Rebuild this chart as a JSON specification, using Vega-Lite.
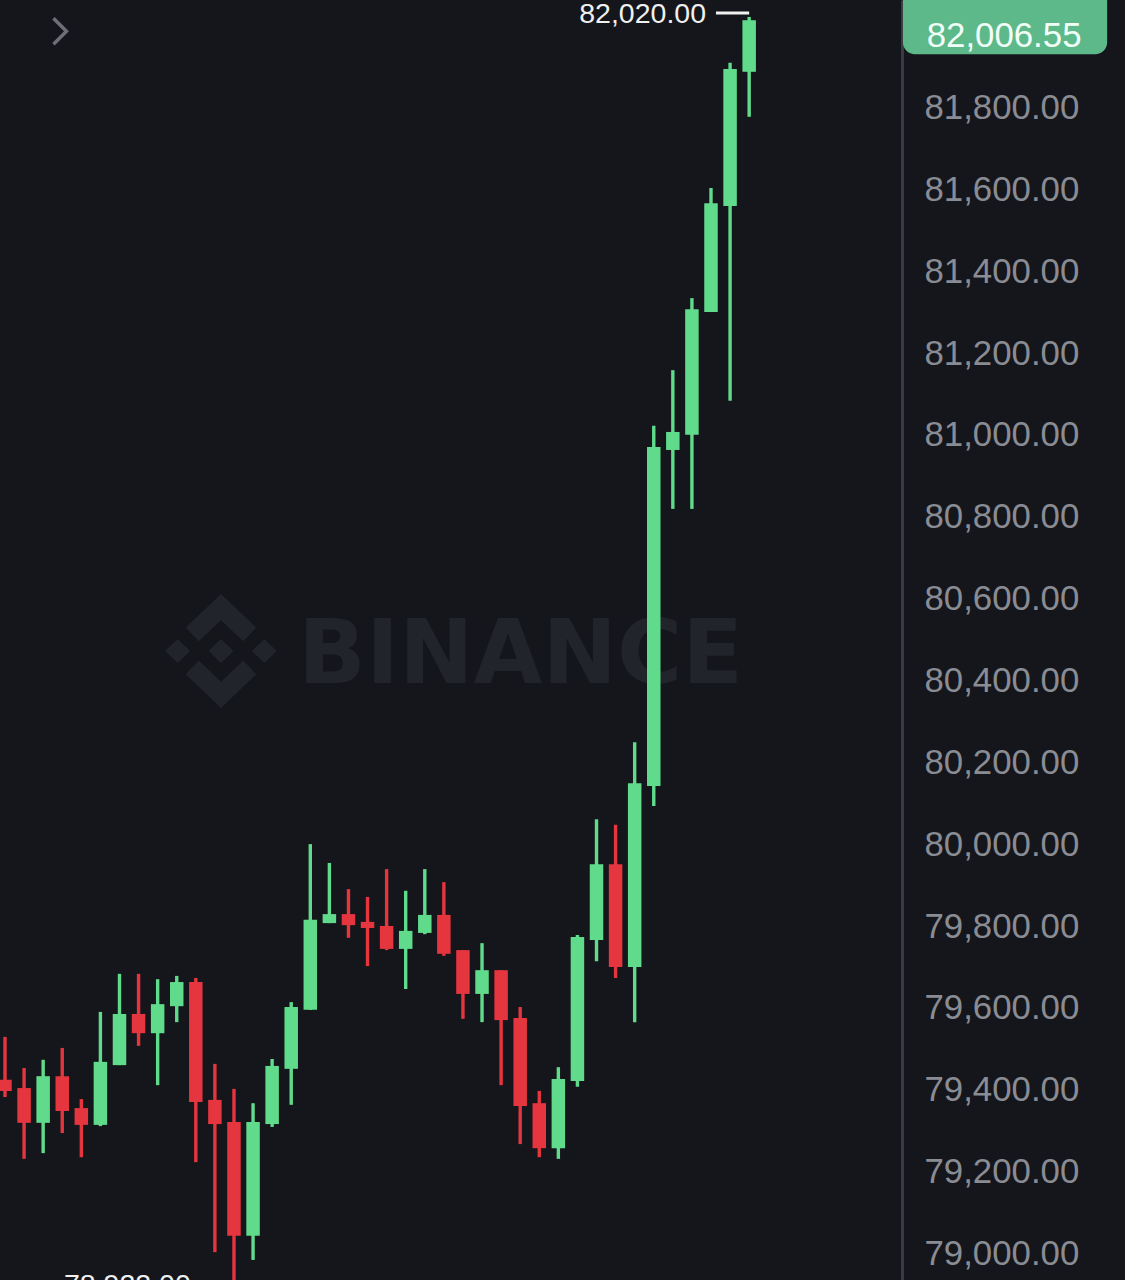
{
  "$schema": "https://vega.github.io/schema/vega-lite/v6.json",
  "width": 902,
  "height": 1280,
  "autosize": "none",
  "padding": {"left": 0, "top": 0, "right": 223, "bottom": 0},
  "background": "#15161b",
  "datasets": {
    "candles": [
      {"i": 0, "open": 79423, "high": 79528, "low": 79381, "close": 79396},
      {"i": 1, "open": 79403, "high": 79452, "low": 79230, "close": 79318},
      {"i": 2, "open": 79318, "high": 79472, "low": 79244, "close": 79432},
      {"i": 3, "open": 79432, "high": 79501, "low": 79293, "close": 79347},
      {"i": 4, "open": 79354, "high": 79376, "low": 79234, "close": 79313},
      {"i": 5, "open": 79313, "high": 79589, "low": 79310, "close": 79467},
      {"i": 6, "open": 79459, "high": 79682, "low": 79459, "close": 79584},
      {"i": 7, "open": 79584, "high": 79682, "low": 79506, "close": 79537},
      {"i": 8, "open": 79537, "high": 79669, "low": 79410, "close": 79608},
      {"i": 9, "open": 79603, "high": 79677, "low": 79564, "close": 79662},
      {"i": 10, "open": 79662, "high": 79672, "low": 79222, "close": 79369},
      {"i": 11, "open": 79374, "high": 79462, "low": 79002, "close": 79315},
      {"i": 12, "open": 79320, "high": 79401, "low": 78922, "close": 79042},
      {"i": 13, "open": 79042, "high": 79366, "low": 78983, "close": 79320},
      {"i": 14, "open": 79315, "high": 79474, "low": 79308, "close": 79457},
      {"i": 15, "open": 79450, "high": 79613, "low": 79362, "close": 79601},
      {"i": 16, "open": 79594, "high": 79999, "low": 79594, "close": 79814},
      {"i": 17, "open": 79806, "high": 79953, "low": 79806, "close": 79828},
      {"i": 18, "open": 79828, "high": 79889, "low": 79770, "close": 79801},
      {"i": 19, "open": 79809, "high": 79870, "low": 79701, "close": 79794},
      {"i": 20, "open": 79799, "high": 79938, "low": 79740, "close": 79743},
      {"i": 21, "open": 79743, "high": 79885, "low": 79645, "close": 79787},
      {"i": 22, "open": 79782, "high": 79938, "low": 79779, "close": 79826},
      {"i": 23, "open": 79826, "high": 79906, "low": 79726, "close": 79731},
      {"i": 24, "open": 79740, "high": 79740, "low": 79572, "close": 79633},
      {"i": 25, "open": 79633, "high": 79757, "low": 79564, "close": 79691},
      {"i": 26, "open": 79691, "high": 79691, "low": 79410, "close": 79569},
      {"i": 27, "open": 79574, "high": 79601, "low": 79266, "close": 79359},
      {"i": 28, "open": 79366, "high": 79396, "low": 79234, "close": 79256},
      {"i": 29, "open": 79256, "high": 79454, "low": 79230, "close": 79425},
      {"i": 30, "open": 79420, "high": 79777, "low": 79406, "close": 79772},
      {"i": 31, "open": 79765, "high": 80060, "low": 79713, "close": 79950},
      {"i": 32, "open": 79950, "high": 80046, "low": 79672, "close": 79699},
      {"i": 33, "open": 79699, "high": 80248, "low": 79564, "close": 80148},
      {"i": 34, "open": 80141, "high": 81021, "low": 80092, "close": 80969},
      {"i": 35, "open": 80962, "high": 81157, "low": 80818, "close": 81006},
      {"i": 36, "open": 80999, "high": 81333, "low": 80818, "close": 81306},
      {"i": 37, "open": 81299, "high": 81602, "low": 81299, "close": 81565},
      {"i": 38, "open": 81558, "high": 81908, "low": 81082, "close": 81893},
      {"i": 39, "open": 81886, "high": 82020, "low": 81776, "close": 82012}
    ]
  },
  "encoding": {
    "x": {
      "field": "i",
      "type": "quantitative",
      "axis": null,
      "scale": {"domain": [-0.262, 47.01], "nice": false, "zero": false, "padding": 0}
    },
    "y": {
      "field": "price",
      "type": "quantitative",
      "scale": {"domain": [78934, 82061.4], "nice": false, "zero": false},
      "axis": {
        "title": null,
        "orient": "right",
        "values": [79000, 79200, 79400, 79600, 79800, 80000, 80200, 80400, 80600, 80800, 81000, 81200, 81400, 81600, 81800],
        "format": ",.2f",
        "grid": false,
        "ticks": false,
        "labelFont": "Liberation Sans",
        "labelFontSize": 34.8,
        "labelColor": "#8a8c94",
        "labelPadding": 22,
        "labelOffset": 1.5,
        "labelFlush": false,
        "labelOverlap": false,
        "domainColor": "#3a3c43",
        "domainWidth": 3
      }
    }
  },
  "layer": [
    {
      "data": {"values": [{"i": 11.32, "price": 80471, "what": "logo"}]},
      "mark": {
        "type": "point",
        "filled": true,
        "size": 12996,
        "color": "#22242b",
        "opacity": 1,
        "shape": "M0,-1L.62,-.41L.39,-.17L0,-.54L-.39,-.17L-.62,-.41ZM0,1L.62,.41L.39,.17L0,.54L-.39,.17L-.62,.41ZM0,-.21L.22,0L0,.21L-.22,0ZM-.76,-.21L-.54,0L-.76,.21L-.98,0ZM.76,-.21L.98,0L.76,.21L.54,0Z"
      }
    },
    {
      "data": {"values": [{"i": 15.36, "price": 80471, "label": "BINANCE"}]},
      "mark": {"type": "text", "align": "left", "baseline": "middle", "dy": 5, "font": "DejaVu Sans", "fontWeight": "bold", "fontSize": 89, "color": "#22242b"},
      "encoding": {"text": {"field": "label"}}
    },
    {
      "data": {"name": "candles"},
      "mark": {"type": "rule", "strokeWidth": 3.4},
      "encoding": {
        "y": {"field": "low", "type": "quantitative"},
        "y2": {"field": "high"},
        "color": {"condition": {"test": "datum.close >= datum.open", "value": "#5fdb8b"}, "value": "#e5353f"}
      }
    },
    {
      "data": {"name": "candles"},
      "mark": {"type": "bar", "size": 13.5},
      "encoding": {
        "y": {"field": "open", "type": "quantitative"},
        "y2": {"field": "close"},
        "color": {"condition": {"test": "datum.close >= datum.open", "value": "#5fdb8b"}, "value": "#e5353f"}
      }
    },
    {
      "data": {"values": [{"i": 37.26, "i2": 39, "price": 82020}]},
      "mark": {"type": "rule", "strokeWidth": 3, "color": "#f0f0f0", "yOffset": -4},
      "encoding": {"x2": {"field": "i2"}}
    },
    {
      "data": {"values": [{"i": 36.74, "price": 82020, "label": "82,020.00"}]},
      "mark": {"type": "text", "align": "right", "baseline": "middle", "dy": -3, "font": "Liberation Sans", "fontSize": 28.5, "color": "#f0f0f0"},
      "encoding": {"text": {"field": "label"}}
    },
    {
      "data": {"values": [{"i": 3.09, "price": 78922, "label": "78,922.00"}]},
      "mark": {"type": "text", "align": "left", "baseline": "middle", "font": "Liberation Sans", "fontSize": 28.5, "color": "#f0f0f0"},
      "encoding": {"text": {"field": "label"}}
    },
    {
      "data": {"values": [{"i": 2.88, "price": 81985}]},
      "mark": {"type": "point", "filled": false, "size": 676, "strokeWidth": 3.5, "color": "#6c6f77", "opacity": 1, "shape": "M-.5,-1L.5,0L-.5,1"}
    },
    {
      "data": {"values": [{"i": 47.06, "i2": 57.76, "price": 82120, "price2": 81929}]},
      "mark": {"type": "rect", "color": "#5db98a", "cornerRadius": 12},
      "encoding": {
        "x2": {"field": "i2"},
        "y2": {"field": "price2"}
      }
    },
    {
      "data": {"values": [{"i": 52.36, "price": 81972, "label": "82,006.55"}]},
      "mark": {"type": "text", "align": "center", "baseline": "middle", "font": "Liberation Sans", "fontSize": 34.8, "color": "#f2fff8"},
      "encoding": {"text": {"field": "label"}}
    }
  ],
  "config": {"view": {"stroke": null}}
}
